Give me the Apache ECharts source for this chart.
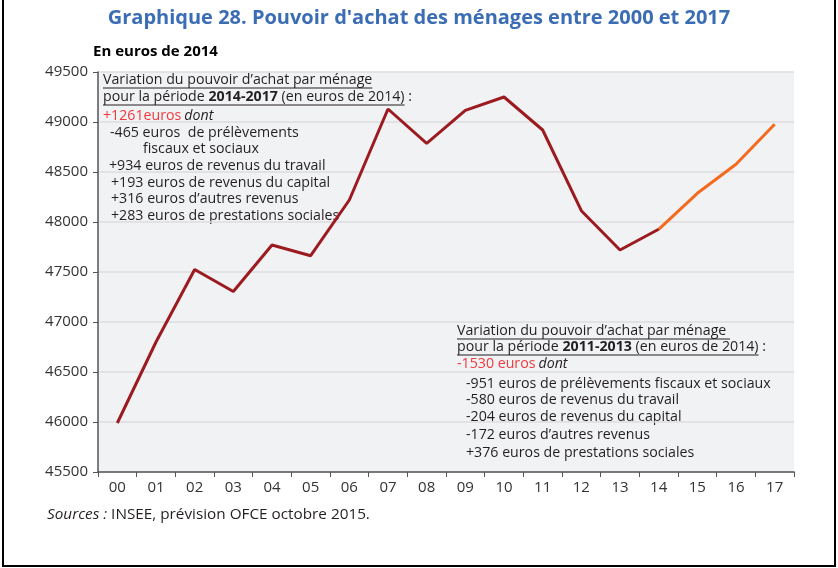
<!DOCTYPE html>
<html>
<head>
<meta charset="utf-8">
<script src="https://cdn.jsdelivr.net/npm/echarts@6/dist/echarts.min.js"></script>
<style>
  html, body { margin: 0; padding: 0; background: #fff; }
  #chart { width: 838px; height: 568px; }
</style>
</head>
<body>
<div id="chart"></div>
<script>
// années 2000-2017
const years = ['00', '01', '02', '03', '04', '05', '06', '07', '08', '09', '10', '11', '12', '13', '14', '15', '16', '17'];
// pouvoir d'achat observé 2000-2014 (euros de 2014)
const observed = [45990, 46800, 47525, 47305, 47770, 47663, 48220, 49130, 48787, 49117, 49250, 48920, 48113, 47720, 47927];
// prévision OFCE 2014-2017
const forecast = [47927, 48287, 48577, 48977];
const yMin = 45500, yMax = 49500, yStep = 500;

// textes des encadrés
const note1 = [
  'Variation du pouvoir d’achat par ménage',
  ['pour la période ', '2014-2017', ' (en euros de 2014)'],
  ['+1261euros', 'dont'],
  '-465 euros  de prélèvements',
  'fiscaux et sociaux',
  '+934 euros de revenus du travail',
  '+193 euros de revenus du capital',
  '+316 euros d’autres revenus',
  '+283 euros de prestations sociales'
];
const note2 = [
  'Variation du pouvoir d’achat par ménage ',
  ['pour la période ', '2011-2013', ' (en euros de 2014)'],
  ['-1530 euros', 'dont'],
  '-951 euros de prélèvements fiscaux et sociaux',
  '-580 euros de revenus du travail',
  '-204 euros de revenus du capital',
  '-172 euros d’autres revenus',
  '+376 euros de prestations sociales'
];

const FONT = 'Open Sans';
const FS = 14.2;
const TXT = '#231f20';
const RED = '#ee3a3f';

const cv = document.createElement('canvas').getContext('2d');
function tw(s, weight, style) {
  cv.font = (style || 'normal') + ' ' + (weight || 'normal') + ' ' + FS + 'px "' + FONT + '"';
  return cv.measureText(s).width;
}

const graphics = [];
function txt(x, y, s, opt) {
  opt = opt || {};
  graphics.push({
    type: 'text', x: x, y: y, silent: true,
    style: {
      text: s, fill: opt.color || TXT,
      font: (opt.style || 'normal') + ' ' + (opt.weight || 'normal') + ' ' + FS + 'px "' + FONT + '"',
      verticalAlign: 'middle'
    }
  });
  return x + tw(s, opt.weight, opt.style);
}
function underline(x1, x2, y) {
  graphics.push({
    type: 'line', silent: true,
    shape: { x1: x1, y1: y, x2: x2, y2: y },
    style: { stroke: TXT, lineWidth: 1 }
  });
}
// bloc : titre souligné, période, total, détails
function block(note, x0, ys, xs) {
  let e = txt(x0, ys[0], note[0]);
  underline(x0, e, ys[0] + 8);
  let x = txt(x0, ys[1], note[1][0]);
  x = txt(x, ys[1], note[1][1], { weight: 'bold' });
  x = txt(x, ys[1], note[1][2]);
  underline(x0, x, ys[1] + 8);
  txt(x, ys[1], ' :');
  x = txt(x0, ys[2], note[2][0], { color: RED });
  txt(x + 3, ys[2], note[2][1], { style: 'italic' });
  for (let i = 3; i < note.length; i++) txt(xs[i - 3], ys[i], note[i]);
}
block(note1, 103, [80, 97, 116, 133, 149, 166, 183, 199, 216], [110, 143, 109, 111, 111, 111]);
block(note2, 457, [331, 347, 364, 384, 400, 417, 435, 453], [466, 466, 466, 466, 466]);

// cadre
graphics.push({
  type: 'rect', silent: true,
  shape: { x: 3, y: -10, width: 832, height: 576 },
  style: { fill: null, stroke: '#000', lineWidth: 2 }
});
graphics.push({
  type: 'text', x: 93, y: 52, silent: true,
  style: { text: 'En euros de 2014', fill: '#000', font: 'bold 15px "' + FONT + '"', verticalAlign: 'middle' }
});
graphics.push({
  type: 'text', x: 47, y: 515, silent: true,
  style: {
    text: '{i|Sources :} INSEE, prévision OFCE octobre 2015.',
    fill: TXT, font: '15.3px "' + FONT + '"', verticalAlign: 'middle',
    rich: { i: { fontStyle: 'italic', fontFamily: FONT, fontSize: 15.3, fill: TXT } }
  }
});

const pad = n => new Array(n).fill(null);
const obsData = observed.concat(pad(years.length - observed.length));
const fcData = pad(years.length - forecast.length).concat(forecast);

const chart = echarts.init(document.getElementById('chart'));
chart.setOption({
  animation: false,
  title: {
    text: 'Graphique 28. Pouvoir d\'achat des ménages entre 2000 et 2017',
    left: 'center', top: 3,
    textStyle: { fontFamily: FONT, fontWeight: 'bold', fontSize: 20, color: '#3b6db4' }
  },
  grid: {
    left: 98, right: 44, top: 72, bottom: 96,
    show: true, backgroundColor: '#f1f2f4', borderWidth: 0
  },
  xAxis: {
    type: 'category', data: years, boundaryGap: true,
    axisLine: { lineStyle: { color: '#555', width: 1.5 } },
    axisTick: { show: true, inside: false, length: 5, lineStyle: { color: '#555' } },
    axisLabel: { color: '#333', fontFamily: FONT, fontSize: 15, margin: 8 },
    splitLine: { show: false }
  },
  yAxis: {
    type: 'value', min: yMin, max: yMax, interval: yStep,
    axisLine: { show: true, lineStyle: { color: '#555', width: 1.5 } },
    axisTick: { show: true, length: 5, lineStyle: { color: '#555' } },
    axisLabel: { color: '#333', fontFamily: FONT, fontSize: 15, margin: 10, formatter: v => String(v) },
    splitLine: { show: true, lineStyle: { color: '#dcdde0', width: 1.5 } }
  },
  series: [
    {
      type: 'line', data: obsData, symbol: 'none', silent: true,
      lineStyle: { color: '#9c1b20', width: 3 }, z: 3
    },
    {
      type: 'line', data: fcData, symbol: 'none', silent: true,
      lineStyle: { color: '#f46a1f', width: 3 }, z: 2
    }
  ],
  graphic: graphics
});
</script>
</body>
</html>
